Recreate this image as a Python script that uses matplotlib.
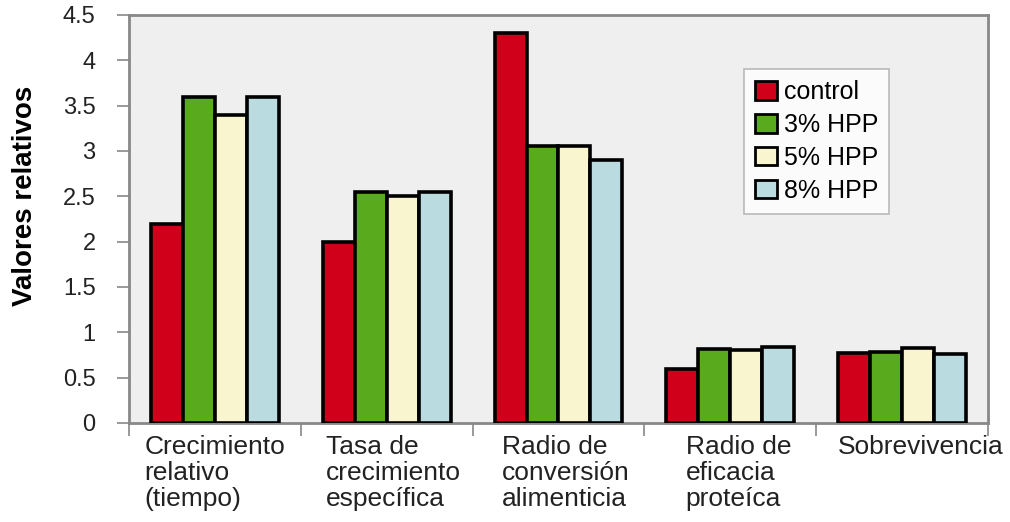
import matplotlib.pyplot as plt
import matplotlib.transforms as mtransforms
import numpy as np

plt.rcParams['font.family'] = ['Liberation Sans', 'DejaVu Sans']

categories = ['Crecimiento\nrelativo\n(tiempo)', 'Tasa de\ncrecimiento\nespecífica',
              'Radio de\nconversión\nalimenticia', 'Radio de\neficacia\nproteíca',
              'Sobrevivencia']
series = ['control', '3% HPP', '5% HPP', '8% HPP']
control = [2.2, 2.0, 4.3, 0.6, 0.77]
hpp3 = [3.6, 2.55, 3.05, 0.82, 0.78]
hpp5 = [3.4, 2.5, 3.05, 0.81, 0.83]
hpp8 = [3.6, 2.55, 2.9, 0.84, 0.76]
colors = ['#d0001a', '#5aaa1e', '#f9f5cf', '#badce1']

fig = plt.figure(figsize=(10.1, 5.22), dpi=100)
ax = fig.add_axes([0.1277, 0.1897, 0.8505, 0.7816])
ax.set_facecolor('#efefef')

x = np.arange(len(categories))
w = 0.186
for i, (vals, name) in enumerate(zip([control, hpp3, hpp5, hpp8], series)):
    ax.bar(x + (i - 1.5) * w, vals, w, color=colors[i], edgecolor='black',
           linewidth=2.6, label=name, zorder=3)

ax.set_xlim(-0.5, len(categories) - 0.5)
ax.set_ylim(0, 4.5)
ax.set_yticks(np.arange(0, 4.51, 0.5))
ax.set_yticklabels(['0', '0.5', '1', '1.5', '2', '2.5', '3', '3.5', '4', '4.5'])
ax.set_xticks(np.arange(-0.5, len(categories), 1.0))
ax.set_xticklabels([])
ax.set_xticks(x, minor=True)
ax.set_xticklabels(categories, minor=True, fontsize=19, color='#222222',
                   multialignment='left', linespacing=1.1)
ax.tick_params(axis='x', which='minor', length=0, pad=9)
ax.tick_params(axis='x', which='major', length=9, color='#888888', width=1.2)
ax.tick_params(axis='y', length=9, color='#888888', width=1.2, labelsize=17,
               labelcolor='#222222', pad=15)

# nudge the category labels a little to the right
shifts = [0, 7, 7, 8, 19]
for lbl, dx in zip(ax.get_xticklabels(minor=True), shifts):
    lbl.set_transform(lbl.get_transform() +
                      mtransforms.ScaledTranslation(dx / 100, 0, fig.dpi_scale_trans))

for s in ax.spines.values():
    s.set_color('#888888')
    s.set_linewidth(2)

ax.set_ylabel('Valores relativos', fontsize=20, fontweight='bold')
ax.yaxis.set_label_coords(-0.106, 0.556)

leg = ax.legend(loc='upper left', bbox_to_anchor=(0.701, 0.898), fontsize=18,
                frameon=True, fancybox=False, edgecolor='#aaaaaa',
                handlelength=0.9, handleheight=0.75, handletextpad=0.25,
                labelspacing=0.35, borderpad=0.45)
leg.get_frame().set_linewidth(1.2)
for h in leg.legend_handles:
    h.set_linewidth(2)

fig.savefig('out.png', dpi=100)
